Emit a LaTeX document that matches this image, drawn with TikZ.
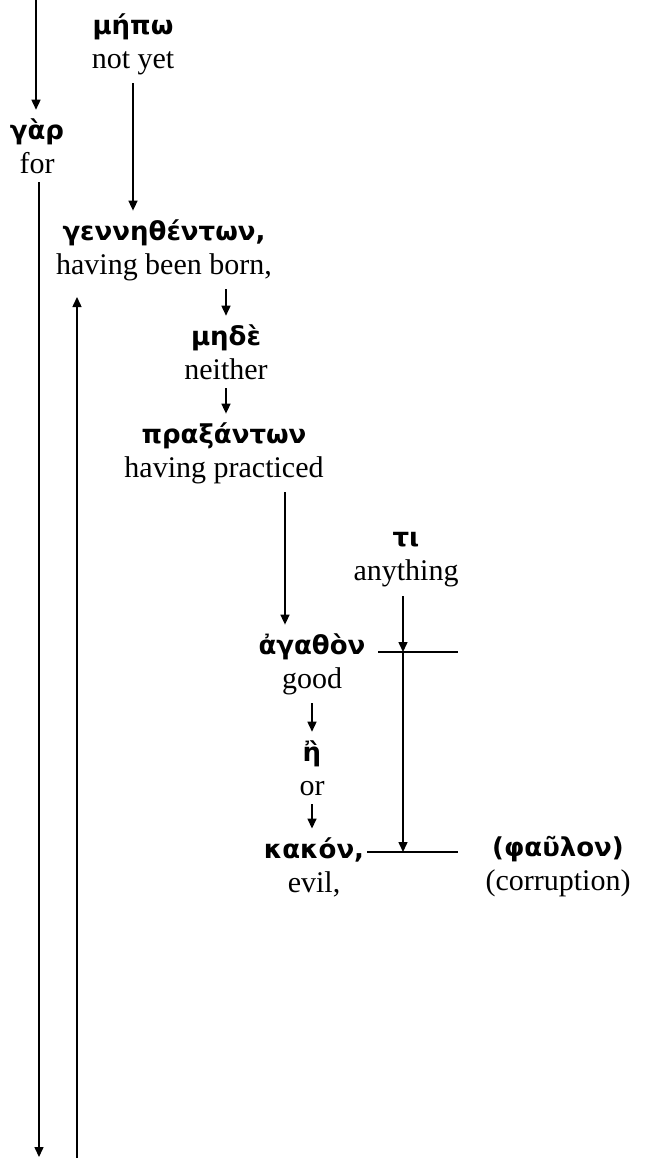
\documentclass[tikz,border=0pt]{standalone}
\usepackage{fontspec}
\setmainfont{Liberation Serif}
\newfontfamily\greekfont{DejaVu Sans}
\usetikzlibrary{arrows.meta}

\newcommand{\gk}[1]{{\greekfont\bfseries\fontsize{13}{17}\selectfont #1}}

\begin{document}
\begin{tikzpicture}[x=0.5pt,y=-0.5pt,line width=0.75pt,
        >={Triangle[length=5pt,width=4.5pt]},
        word/.style={align=center,inner xsep=0pt,inner ysep=4pt,
            font=\fontsize{15}{17}\selectfont}]
        \useasboundingbox (0,0) rectangle (648,1158);

        %=== Parole ===
        \node[word] (gar) at (37,146) {\gk{γὰρ}\\for};
        \node[word] (mepo) at (133,44) {\gk{μήπω}\\not yet};
        \node[word] (genn) at (164,250) {\gk{γεννηθέντων,}\\having been born,};
        \node[word] (mede) at (226,352) {\gk{μηδὲ}\\neither};
        \node[word] (prax) at (224,453) {\gk{πραξάντων}\\having practiced};
        \node[word] (ti) at (406,560) {\gk{τι}\\anything};
        \node[word] (agathon) at (312,664) {\gk{ἀγαθὸν}\\good};
        \node[word] (e) at (312,768) {\gk{ἢ}\\or};
        \node[word] (kakon) at (314,867) {\gk{κακόν,}\\evil,};
        \node[word] (phaulon) at (558,867) {\gk{(φαῦλον)}\\(corruption)};

        %=== Punti liberi ===
        \coordinate (top) at (36,0);
        \coordinate (bottom) at (39,1157);
        \coordinate (upfoot) at (77,1158);
        \coordinate (uphead) at (77,297);
        \coordinate (agw) at (378,652);
        \coordinate (agjoin) at (403,652);
        \coordinate (age) at (458,652);
        \coordinate (kaw) at (367,852);
        \coordinate (kajoin) at (403,852);
        \coordinate (kae) at (458,852);

        %=== Frecce ===
        \draw[->] (top) -- (top |- gar.north);
        \draw[->] (gar.south -| bottom) -- (bottom);
        \draw[->] (upfoot) -- (uphead);
        \draw[->] (mepo.south) -- (mepo.south |- genn.north);
        \draw[->] (genn.south -| mede.north) -- (mede.north);
        \draw[->] (mede.south) -- (mede.south |- prax.north);
        \draw[->] ([xshift=30.5pt]prax.south) -- ([xshift=30.5pt]prax.south |- agathon.north);
        \draw[->] (agathon.south) -- (agathon.south |- e.north);
        \draw[->] (e.south) -- (e.south |- kakon.north);

        %=== Linee di tau ===
        \draw (agw) -- (age);
        \draw (kaw) -- (kae);
        \draw[->] (ti.south -| agjoin) -- (agjoin);
        \draw[->] (agjoin) -- (kajoin);
    \end{tikzpicture}
\end{document}
